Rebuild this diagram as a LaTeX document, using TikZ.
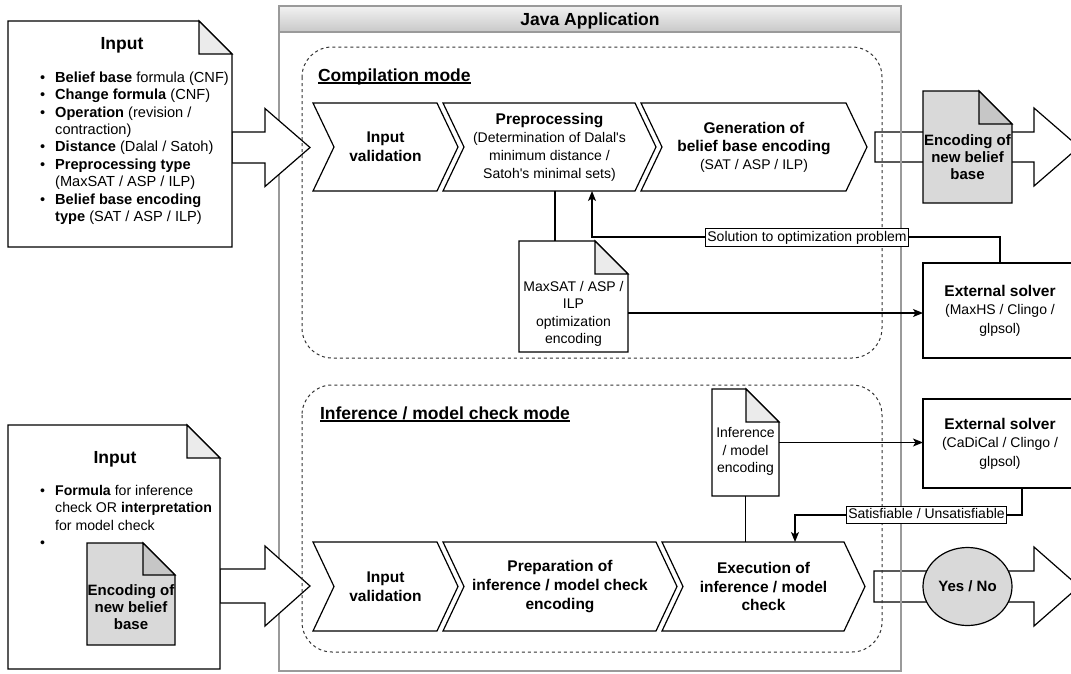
\documentclass[tikz,border=0pt]{standalone}
\usepackage{fontspec}
\setmainfont{Liberation Sans}
\usetikzlibrary{arrows.meta,calc,shapes.geometric}
\definecolor{javaborder}{HTML}{9A9A9A}
\definecolor{hdtop}{HTML}{F2F2F2}
\definecolor{hdbot}{HTML}{C8C8C8}
\definecolor{foldlight}{HTML}{EBEBEB}
\definecolor{docgray}{HTML}{D9D9D9}
\definecolor{foldgray}{HTML}{C6C6C6}
\definecolor{dashcol}{HTML}{333333}
\newcommand\bfl[1]{{\fontsize{15.5}{18}\selectfont\bfseries #1}}
\newcommand\dogear[4]{%
  \filldraw[shapeline, fill=#3] (#1.north west) -- ([xshift=-#2pt]#1.north east) -- ([yshift=-#2pt]#1.north east) -- (#1.south east) -- (#1.south west) -- cycle;
  \filldraw[shapeline, fill=#4] ([xshift=-#2pt]#1.north east) -- ([xshift=-#2pt,yshift=-#2pt]#1.north east) -- ([yshift=-#2pt]#1.north east) -- cycle;
}
\newcommand\blockarr[6]{%
  \filldraw[shapeline, fill=white] (#1,#4-#5) -- (#2,#4-#5) -- (#2,#4-#6) -- (#3,#4) -- (#2,#4+#6) -- (#2,#4+#5) -- (#1,#4+#5) -- cycle;
}
\newcommand\chevron[5]{%
  \filldraw[shapeline, fill=white] (#1,#3) -- (#2,#3) -- (#2+#5,{(#3+#4)/2}) -- (#2,#4) -- (#1,#4) -- (#1+#5,{(#3+#4)/2}) -- cycle;
}
\tikzset{
  shapeline/.style={draw=black, line width=1.2pt, line join=miter},
  holder/.style={rectangle, draw=none, inner sep=0pt, outer sep=0pt},
  boldtxt/.style={font=\fontsize{15.5}{18.6}\selectfont\bfseries, align=center},
  docbold/.style={holder, font=\fontsize{15}{17}\selectfont\bfseries, align=center},
  regtxt/.style={holder, font=\fontsize{14}{17.5}\selectfont, align=center},
  mixtxt/.style={font=\fontsize{14}{18}\selectfont, align=center},
  titletxt/.style={font=\fontsize{17.5}{21}\selectfont\bfseries, inner sep=0pt, outer sep=0pt},
  listtxt/.style={font=\fontsize{14.6}{17.4}\selectfont, align=left, inner sep=0pt, anchor=north west},
  container/.style={draw=dashcol, line width=1pt, dash pattern=on 3pt off 3pt, rounded corners=30pt},
  solverbox/.style={holder, shapeline, fill=white, font=\fontsize{14}{18.5}\selectfont, align=center},
  lbl/.style={draw=black, line width=0.8pt, fill=white, font=\fontsize{14}{16}\selectfont, inner xsep=1.5pt, inner ysep=2pt, text height=10.5pt, text depth=3pt},
  conn/.style={draw=black, line width=1.2pt},
  arr/.style={conn, -{Stealth[length=10pt,width=8pt,inset=2.5pt]}},
}
\begin{document}
\begin{tikzpicture}[x=1pt,y=-1pt]
\useasboundingbox (0,0) rectangle (1071,673);
% right block arrows (under Java box)
\blockarr{875}{1034}{1079}{147}{15}{39}
\blockarr{874}{1034}{1079}{586.5}{15.5}{39.5}
% Java application box
\node[holder, minimum width=622pt, minimum height=665pt] (java) at (590,338.5) {};
\shade[top color=hdtop, bottom color=hdbot] (java.north west) rectangle ([yshift=-26pt]java.north east);
\draw[draw=javaborder, line width=1.6pt] ([yshift=-26pt]java.north west) -- ([yshift=-26pt]java.north east);
\draw[draw=javaborder, line width=1.6pt] (java.north west) rectangle (java.south east);
\node[titletxt, anchor=base] (javatitle) at (590,25.3) {Java Application};
% left block arrows
\blockarr{232}{265}{310}{147.5}{15.5}{39}
\blockarr{220}{265}{310}{586}{17}{40}
% containers
\node[holder, minimum width=580pt, minimum height=311pt] (comp) at (592,202.5) {};
\draw[container] (comp.north west) rectangle (comp.south east);
\node[holder, minimum width=580pt, minimum height=267pt] (infer) at (592,518.5) {};
\draw[container] (infer.north west) rectangle (infer.south east);
\node[titletxt, anchor=base west] (comptitle) at (318,81) {Compilation mode};
\draw[line width=1.2pt] ([yshift=-2pt]comptitle.base west) -- ([yshift=-2pt]comptitle.base east);
\node[titletxt, anchor=base west] (inftitle) at (320,419) {Inference / model check mode};
\draw[line width=1.2pt] ([yshift=-2pt]inftitle.base west) -- ([yshift=-2pt]inftitle.base east);
% input documents
\node[holder, minimum width=224pt, minimum height=226pt] (in1) at (120,134) {};
\dogear{in1}{33}{white}{foldlight}
\node[titletxt, anchor=base] (in1title) at (122,49.5) {Input};
\node[listtxt] (in1list) at (40,71.5) {%
\makebox[15pt][l]{•}\textbf{Belief base} formula (CNF)\\
\makebox[15pt][l]{•}\textbf{Change formula} (CNF)\\
\makebox[15pt][l]{•}\textbf{Operation} (revision /\\
\hspace*{15pt}contraction)\\
\makebox[15pt][l]{•}\textbf{Distance} (Dalal / Satoh)\\
\makebox[15pt][l]{•}\textbf{Preprocessing type}\\
\hspace*{15pt}(MaxSAT / ASP / ILP)\\
\makebox[15pt][l]{•}\textbf{Belief base encoding}\\
\hspace*{15pt}\textbf{type} (SAT / ASP / ILP)};
\node[holder, minimum width=212pt, minimum height=244pt] (in2) at (114,547) {};
\dogear{in2}{33}{white}{foldlight}
\node[titletxt, anchor=base] (in2title) at (115,463.3) {Input};
\node[listtxt, font=\fontsize{14.1}{17.4}\selectfont] (in2list) at (40,484.8) {%
\makebox[15pt][l]{•}\textbf{Formula} for inference\\
\hspace*{15pt}check OR \textbf{interpretation}\\
\hspace*{15pt}for model check\\
\makebox[15pt][l]{•}};
\node[holder, minimum width=88pt, minimum height=102pt] (enc2) at (131,594) {};
\dogear{enc2}{32}{docgray}{foldgray}
\node[docbold] (enc2text) at (131,607) {Encoding of\\new belief\\base};
% chevrons row 1
\chevron{313}{437}{103}{191}{21}
\chevron{443}{635}{103}{191}{21}
\chevron{641}{846}{103}{191}{21}
\node[holder, minimum width=145pt, minimum height=88pt, boldtxt] (c1) at (385.5,147) {Input\\validation};
\node[holder, minimum width=213pt, minimum height=88pt, mixtxt] (c2) at (549.5,147) {\bfl{Preprocessing}\\(Determination of Dalal\textquotesingle s\\minimum distance /\\Satoh\textquotesingle s minimal sets)};
\node[holder, minimum width=226pt, minimum height=88pt, mixtxt] (c3) at (754,147) {\bfl{Generation of}\\\bfl{belief base encoding}\\(SAT / ASP / ILP)};
% chevrons row 2
\chevron{313}{437}{542}{631}{21}
\chevron{443}{656}{542}{631}{21}
\chevron{662}{844}{542}{631}{21}
\node[holder, minimum width=145pt, minimum height=89pt, boldtxt] (d1) at (385.5,586.5) {Input\\validation};
\node[holder, minimum width=234pt, minimum height=89pt, boldtxt] (d2) at (560,586.5) {Preparation of\\inference / model check\\encoding};
\node[holder, minimum width=203pt, minimum height=89pt, boldtxt] (d3) at (763.5,586.5) {Execution of\\inference / model\\check};
% output document
\node[holder, minimum width=89pt, minimum height=112pt] (encout) at (967.5,147) {};
\dogear{encout}{33}{docgray}{foldgray}
\node[docbold] (encouttext) at (967.5,157) {Encoding of\\new belief\\base};
% optimization encoding doc
\node[holder, minimum width=109pt, minimum height=111pt] (maxsat) at (573.5,296.5) {};
\dogear{maxsat}{33}{white}{foldlight}
\node[regtxt] (maxsattext) at (573.5,314) {MaxSAT / ASP /\\ILP\\optimization\\encoding};
% inference encoding doc
\node[holder, minimum width=67pt, minimum height=107pt] (infdoc) at (745.5,442.5) {};
\dogear{infdoc}{33}{white}{foldlight}
\node[regtxt] (inftext) at (745.5,451.5) {Inference\\/ model\\encoding};
% solvers
\node[solverbox, minimum width=154pt, minimum height=95pt] (solver1) at (1000,310.5) {\bfl{External solver}\\(MaxHS / Clingo /\\glpsol)};
\node[solverbox, minimum width=154pt, minimum height=89pt] (solver2) at (1000,443.5) {\bfl{External solver}\\(CaDiCal / Clingo /\\glpsol)};
% result
\node[ellipse, shapeline, fill=docgray, minimum width=89pt, minimum height=78pt, inner sep=0pt, font=\fontsize{15}{18}\selectfont\bfseries] (yesno) at (967.5,586.5) {Yes / No};
% connectors
\coordinate (mxtop) at ([xshift=36pt]maxsat.north west);
\draw[conn] (mxtop) -- (mxtop |- c2.south);
\coordinate (solturn) at (592,237);
\draw[arr] (solver1.north) |- (solturn) -- (solturn |- c2.south);
\node[lbl] (sollbl) at (807,237.5) {Solution to optimization problem};
\draw[arr] ([yshift=-2.5pt]maxsat.east |- solver1.west) -- ([yshift=-2.5pt]solver1.west);
\draw[arr] (infdoc.east) -- (infdoc.east -| solver2.west);
\draw[conn] (infdoc.south) -- (infdoc.south |- d3.north);
\coordinate (satturn) at (795,515);
\draw[arr] ([xshift=22pt]solver2.south) |- (satturn) -- (satturn |- d3.north);
\node[lbl] (satlbl) at (926.5,515) {Satisfiable / Unsatisfiable};
\end{tikzpicture}
\end{document}
